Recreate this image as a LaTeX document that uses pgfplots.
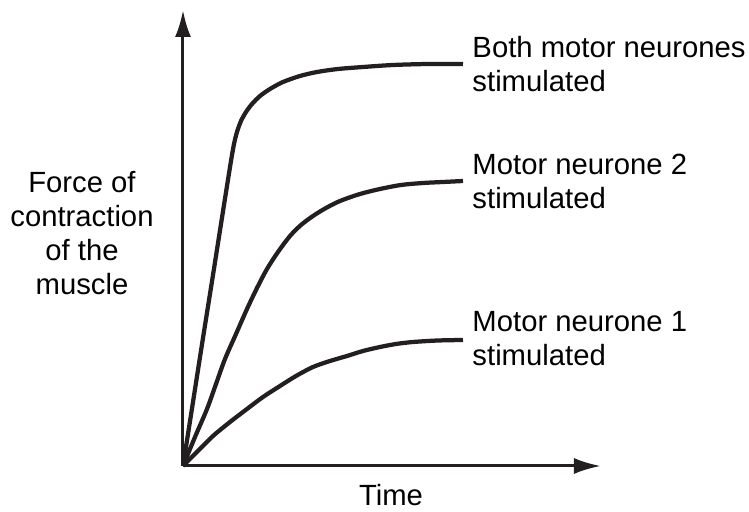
\documentclass[border=0pt]{standalone}
\usepackage{pgfplots}
\pgfplotsset{compat=1.18}
\usepackage{fontspec}
\setmainfont{Liberation Sans}
\usetikzlibrary{arrows.meta}
\definecolor{ink}{HTML}{231F20}
\begin{document}
\fontsize{11.7}{13.6}\selectfont
\begin{tikzpicture}
\useasboundingbox (0pt,0pt) rectangle (299.6pt,-204.8pt);
\begin{axis}[
  at={(73.2pt,-186.4pt)}, anchor=south west,
  scale only axis, width=167.2pt, height=182.4pt,
  xmin=0, xmax=418, ymin=0, ymax=456,
  enlargelimits=false, clip=false,
  axis lines=left,
  axis line style={ink, line width=1.2pt, -{Latex[length=10.8pt,width=6.4pt]}},
  xtick=\empty, ytick=\empty,
  curve/.style={ink, line width=1.7pt, smooth, tension=0.5, mark=none, line join=round},
]
\addplot[curve] coordinates {(0,0) (10,64) (20,128) (30,191) (38,242) (44,280) (48,305) (51,322) (54,334) (58,345) (63,354) (69,362) (77,370) (87,377) (100,384) (117,390) (134,394) (155,397) (180,399) (210,401) (245,402) (280,402)};
\addplot[curve] coordinates {(0,0) (12,29) (24,57) (33,82) (42,107) (53,132) (64,157) (74,178) (84,197) (95,214) (107,230) (118,241) (130,250) (143,258) (157,265) (177,272) (197,277) (218,281) (240,283) (260,284) (280,285)};
\addplot[curve] coordinates {(0,0) (15,15) (30,30) (47,44) (64,57) (80,69) (97,80) (113,90) (130,99) (147,105) (164,110) (180,115) (197,119) (213,122) (230,124) (255,125.5) (280,126)};
\node[anchor=west, inner sep=0, align=left] at (axis cs:289,402) {Both motor neurones\\stimulated};
\node[anchor=west, inner sep=0, align=left] at (axis cs:289,285) {Motor neurone 2\\stimulated};
\node[anchor=west, inner sep=0, align=left] at (axis cs:289,127) {Motor neurone 1\\stimulated};
\node[inner sep=0] at (axis cs:208,-29) {Time};
\node[inner sep=0, align=center] at (axis cs:-101,233) {Force of\\contraction\\of the\\muscle};
\end{axis}
\end{tikzpicture}
\end{document}
